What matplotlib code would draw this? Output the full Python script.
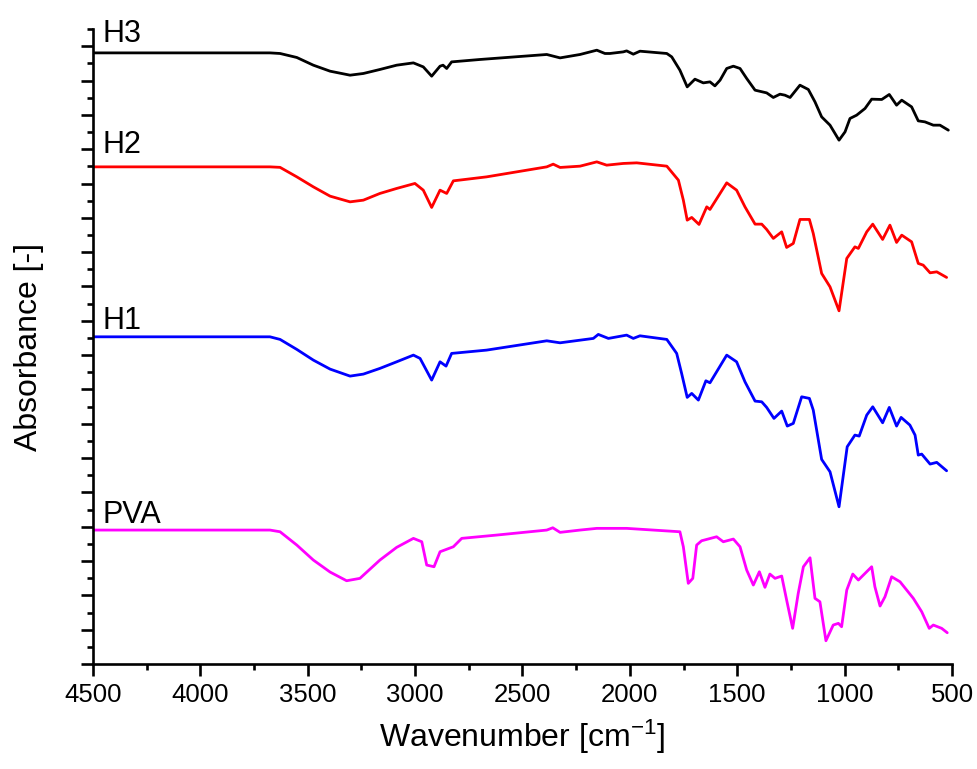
import matplotlib
matplotlib.use("Agg")
import matplotlib.pyplot as plt
from matplotlib.ticker import MultipleLocator

plt.rcParams['font.family'] = ['Liberation Sans', 'DejaVu Sans']
plt.rcParams['mathtext.default'] = 'regular'

# ---------------- data (wavenumber in cm^-1, absorbance in arbitrary offset units) -------------
h3_wn = [4500, 3676, 3629, 3551, 3474, 3396, 3303, 3241, 3164, 3086, 3008, 2962, 2923, 2884, 2870,
         2853, 2830, 2698, 2387, 2325, 2232, 2154, 2116, 2093, 2031, 2015, 1984, 1953, 1828, 1805,
         1767, 1733, 1697, 1658, 1627, 1604, 1580, 1549, 1518, 1487, 1456, 1417, 1363, 1332, 1301,
         1278, 1254, 1208, 1169, 1138, 1107, 1068, 1026, 998, 975, 944, 905, 874, 827, 792, 758,
         734, 688, 657, 626, 587, 556, 517]
h3_abs = [6.113, 6.113, 6.107, 6.067, 5.990, 5.930, 5.890, 5.907, 5.947, 5.990, 6.013, 5.973, 5.880,
          5.980, 5.990, 5.957, 6.023, 6.047, 6.097, 6.063, 6.097, 6.140, 6.107, 6.107, 6.123, 6.133,
          6.100, 6.130, 6.107, 6.073, 5.940, 5.773, 5.850, 5.813, 5.823, 5.783, 5.840, 5.957, 5.980,
          5.957, 5.857, 5.740, 5.713, 5.667, 5.700, 5.690, 5.667, 5.790, 5.747, 5.623, 5.473, 5.390,
          5.240, 5.323, 5.457, 5.490, 5.557, 5.650, 5.647, 5.697, 5.590, 5.640, 5.573, 5.433, 5.423,
          5.390, 5.390, 5.340]

h2_wn = [4500, 3676, 3629, 3551, 3474, 3396, 3303, 3241, 3164, 3086, 3001, 2962, 2923, 2884, 2853,
         2822, 2667, 2387, 2357, 2325, 2232, 2154, 2108, 2031, 1968, 1828, 1774, 1751, 1733, 1712,
         1678, 1642, 1627, 1549, 1503, 1464, 1417, 1386, 1363, 1332, 1293, 1270, 1239, 1208, 1164,
         1146, 1107, 1068, 1026, 990, 952, 936, 897, 869, 823, 789, 758, 734, 688, 657, 634, 602,
         571, 525]
h2_abs = [4.973, 4.973, 4.968, 4.873, 4.773, 4.680, 4.623, 4.640, 4.707, 4.757, 4.807, 4.740, 4.567,
          4.740, 4.707, 4.833, 4.873, 4.973, 5.000, 4.967, 4.980, 5.023, 4.990, 5.007, 5.013, 4.980,
          4.840, 4.640, 4.440, 4.467, 4.397, 4.573, 4.547, 4.813, 4.740, 4.573, 4.400, 4.400, 4.347,
          4.257, 4.323, 4.167, 4.207, 4.447, 4.447, 4.307, 3.907, 3.773, 3.533, 4.057, 4.173, 4.157,
          4.323, 4.400, 4.247, 4.390, 4.217, 4.290, 4.223, 4.007, 3.990, 3.913, 3.923, 3.867]

h1_wn = [4500, 3676, 3629, 3551, 3474, 3396, 3303, 3241, 3164, 3086, 3008, 2977, 2923, 2884, 2856,
         2830, 2667, 2387, 2325, 2170, 2147, 2100, 2015, 1984, 1953, 1828, 1782, 1759, 1733, 1712,
         1681, 1646, 1627, 1549, 1503, 1464, 1417, 1386, 1363, 1329, 1293, 1267, 1239, 1200, 1164,
         1146, 1107, 1068, 1026, 988, 952, 932, 897, 869, 823, 792, 758, 737, 696, 672, 657, 641,
         602, 571, 525]
h1_abs = [3.273, 3.273, 3.247, 3.147, 3.040, 2.950, 2.880, 2.900, 2.957, 3.023, 3.090, 3.057, 2.840,
          3.023, 2.980, 3.107, 3.140, 3.233, 3.213, 3.257, 3.297, 3.257, 3.290, 3.257, 3.283, 3.247,
          3.107, 2.907, 2.667, 2.707, 2.640, 2.833, 2.813, 3.090, 3.023, 2.823, 2.630, 2.623, 2.567,
          2.457, 2.530, 2.380, 2.407, 2.673, 2.657, 2.540, 2.047, 1.923, 1.573, 2.173, 2.290, 2.280,
          2.490, 2.573, 2.413, 2.567, 2.380, 2.467, 2.390, 2.290, 2.090, 2.100, 2.000, 2.017, 1.933]

pva_wn = [4500, 3676, 3629, 3551, 3474, 3396, 3319, 3257, 3164, 3086, 3008, 2969, 2946, 2912, 2884,
          2822, 2783, 2620, 2387, 2359, 2325, 2232, 2154, 2015, 1767, 1751, 1728, 1707, 1689, 1666,
          1596, 1565, 1518, 1487, 1456, 1425, 1397, 1371, 1348, 1324, 1293, 1270, 1242, 1216, 1192,
          1161, 1138, 1115, 1087, 1053, 1029, 1014, 990, 962, 936, 874, 859, 835, 812, 781, 742, 680,
          641, 606, 587, 548, 522]
pva_abs = [1.340, 1.340, 1.323, 1.190, 1.040, 0.920, 0.833, 0.857, 1.040, 1.167, 1.257, 1.223, 0.990,
           0.973, 1.123, 1.173, 1.257, 1.290, 1.340, 1.363, 1.317, 1.340, 1.357, 1.357, 1.323, 1.173,
           0.807, 0.857, 1.190, 1.233, 1.273, 1.223, 1.250, 1.173, 0.940, 0.790, 0.923, 0.767, 0.900,
           0.857, 0.880, 0.640, 0.357, 0.707, 0.973, 1.063, 0.657, 0.623, 0.233, 0.390, 0.407, 0.373,
           0.740, 0.900, 0.840, 0.973, 0.773, 0.580, 0.673, 0.873, 0.823, 0.657, 0.523, 0.357, 0.390,
           0.357, 0.313]

series_names = ["H3", "H2", "H1", "PVA"]
series_colors = ["#000000", "#ff0000", "#0000ff", "#ff00ff"]
label_y = [6.22, 5.11, 3.35, 1.41]

# ---------------- plot ----------------
fig = plt.figure(figsize=(9.78, 7.69), dpi=100)
ax = fig.add_axes([0.0951, 0.1365, 0.9734 - 0.0951, 0.9623 - 0.1365])

spectra = [(h3_wn, h3_abs), (h2_wn, h2_abs), (h1_wn, h1_abs), (pva_wn, pva_abs)]
for (wn, ab), name, col, ly in zip(spectra, series_names, series_colors, label_y):
    ax.plot(wn, ab, color=col, lw=2.0, solid_joinstyle='round', solid_capstyle='round')
    ax.text(4455, ly, name, fontsize=22, color='black', ha='left', va='baseline')

ax.set_xlim(4500, 500)
ax.set_ylim(0, 6.352)

ax.xaxis.set_major_locator(MultipleLocator(500))
ax.xaxis.set_minor_locator(MultipleLocator(250))
ax.yaxis.set_major_locator(MultipleLocator(0.3433))
ax.yaxis.set_minor_locator(MultipleLocator(0.17165))
ax.tick_params(axis='y', which='both', labelleft=False)

for s in ['top', 'right']:
    ax.spines[s].set_visible(False)
for s in ['left', 'bottom']:
    ax.spines[s].set_linewidth(1.9)

ax.tick_params(which='major', direction='out', length=8.5, width=1.9, labelsize=18.5, pad=5)
ax.tick_params(which='minor', direction='out', length=4.5, width=1.9)

ax.set_xlabel('Wavenumber [cm$^{-1}$]', fontsize=23, labelpad=8)
ax.set_ylabel('Absorbance [-]', fontsize=23, labelpad=27)

fig.savefig('out.png', dpi=100)
